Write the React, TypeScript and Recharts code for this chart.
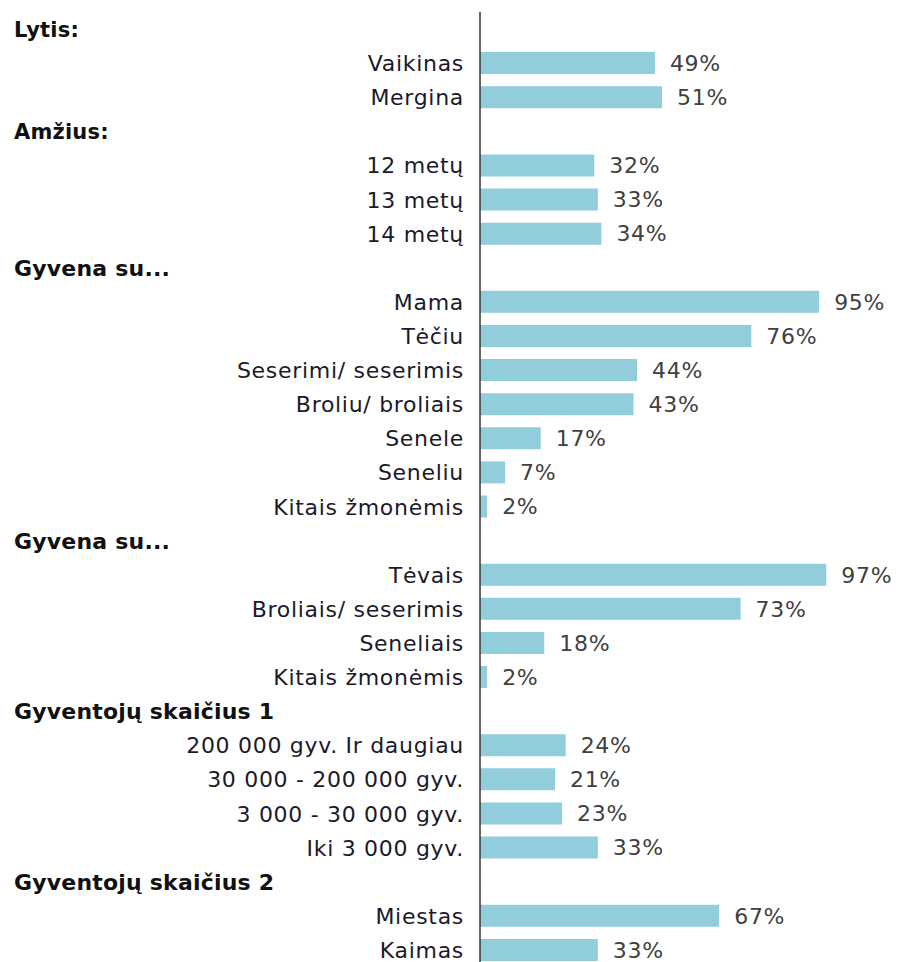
import { BarChart, Bar, XAxis, YAxis, LabelList } from "recharts";

const groupTitles = [
  "Lytis:",
  "Amžius:",
  "Gyvena su...",
  "Gyvena su...",
  "Gyventojų skaičius 1",
  "Gyventojų skaičius 2",
];

const groupCategories = [
  ["Vaikinas", "Mergina"],
  ["12 metų", "13 metų", "14 metų"],
  ["Mama", "Tėčiu", "Seserimi/ seserimis", "Broliu/ broliais", "Senele", "Seneliu", "Kitais žmonėmis"],
  ["Tėvais", "Broliais/ seserimis", "Seneliais", "Kitais žmonėmis"],
  ["200 000 gyv. Ir daugiau", "30 000 - 200 000 gyv.", "3 000 - 30 000 gyv.", "Iki 3 000 gyv."],
  ["Miestas", "Kaimas"],
];

const groupValues = [
  [49, 51],
  [32, 33, 34],
  [95, 76, 44, 43, 17, 7, 2],
  [97, 73, 18, 2],
  [24, 21, 23, 33],
  [67, 33],
];

type Row = { id: string; name: string; value: number | null; header: boolean; group: number };

const rows: Row[] = [];
groupTitles.forEach((title, g) => {
  rows.push({ id: `h${g}`, name: title, value: null, header: true, group: g });
  groupCategories[g].forEach((c, i) => {
    rows.push({ id: `r${g}-${i}`, name: c, value: groupValues[g][i], header: false, group: g });
  });
});

const FONT = "'DejaVu Sans', Verdana, sans-serif";
// the first two headers are drawn a touch smaller in the original
const smallHeaders = [0, 1];

function RowTick(props: any) {
  const { x, y, payload } = props;
  const row = rows[payload.index];
  if (!row) return null;
  if (row.header) {
    return (
      <text
        x={14}
        y={y}
        dy={8}
        textAnchor="start"
        fontFamily={FONT}
        fontWeight="bold"
        fontSize={smallHeaders.includes(row.group) ? 21 : 22}
        letterSpacing={0.2}
        fill="#111"
      >
        {row.name}
      </text>
    );
  }
  return (
    <text
      x={x - 8}
      y={y}
      dy={8}
      textAnchor="end"
      fontFamily={FONT}
      fontSize={22}
      letterSpacing={0.7}
      fill="#1a1a2a"
    >
      {row.name}
    </text>
  );
}

export default function App() {
  return (
    <div style={{ position: "absolute", left: 0, top: 0, background: "#fff" }}>
      <BarChart
        width={911}
        height={968}
        data={rows}
        layout="vertical"
        margin={{ top: 12, right: 74, bottom: 1, left: 0 }}
      >
        <XAxis type="number" domain={[0, 100]} hide />
        <YAxis
          type="category"
          dataKey="id"
          width={480}
          axisLine={{ stroke: "#333", strokeWidth: 1.5 }}
          tickLine={false}
          tick={<RowTick />}
          interval={0}
        />
        <Bar dataKey="value" fill="#92CDDC" barSize={22} isAnimationActive={false}>
          <LabelList
            dataKey="value"
            position="right"
            offset={15}
            formatter={(v: any) => (v == null ? "" : `${v}%`)}
            style={{ fontFamily: FONT, fontSize: 22, letterSpacing: 0.7, fill: "#404040" }}
          />
        </Bar>
      </BarChart>
    </div>
  );
}
